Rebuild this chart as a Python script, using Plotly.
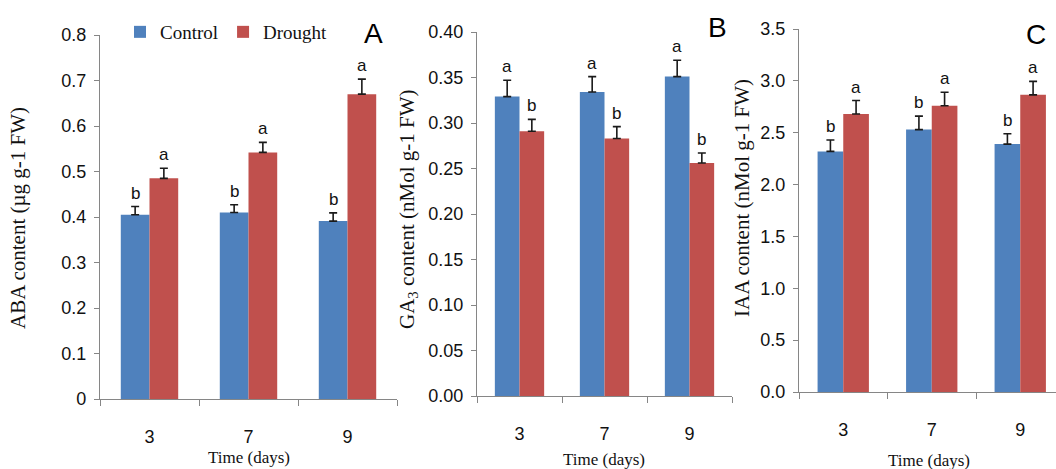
import plotly.graph_objects as go

days = ["3", "7", "9"]

aba_control = [0.405, 0.410, 0.391]
aba_control_err = [0.018, 0.017, 0.018]
aba_drought = [0.485, 0.542, 0.670]
aba_drought_err = [0.022, 0.022, 0.033]
aba_letters_control = ["b", "b", "b"]
aba_letters_drought = ["a", "a", "a"]

ga_control = [0.329, 0.334, 0.351]
ga_control_err = [0.018, 0.017, 0.018]
ga_drought = [0.291, 0.283, 0.256]
ga_drought_err = [0.013, 0.013, 0.011]
ga_letters_control = ["a", "a", "a"]
ga_letters_drought = ["b", "b", "b"]

iaa_control = [2.32, 2.53, 2.39]
iaa_control_err = [0.11, 0.13, 0.10]
iaa_drought = [2.68, 2.76, 2.865]
iaa_drought_err = [0.13, 0.13, 0.13]
iaa_letters_control = ["b", "b", "b"]
iaa_letters_drought = ["a", "a", "a"]

BLUE = "#4F81BD"
RED = "#C0504D"
AXIS = "#868686"
W, H = 1056, 469
BARGAP = 0.42
SANS = "Liberation Sans Narrow, Liberation Sans, Arial"
SERIF = "Liberation Serif, Times New Roman"

def fx(px):
    return px / W

def fy(py):
    return 1 - py / H

panels = [
    dict(ctrl=aba_control, ce=aba_control_err, dr=aba_drought, de=aba_drought_err,
         lc=aba_letters_control, ld=aba_letters_drought,
         xdom=[fx(100), fx(397)], xrange=[-0.5, 2.5], ydom=[fy(399), fy(35)],
         yrange=[0, 0.8], dtick=0.1, fmt="", ytitle="ABA content (µg g-1 FW)",
         ytx=18, yty=218, xtx=249, xty=457, letter="A", lx=373, ly=33),
    dict(ctrl=ga_control, ce=ga_control_err, dr=ga_drought, de=ga_drought_err,
         lc=ga_letters_control, ld=ga_letters_drought,
         xdom=[fx(477), fx(732)], xrange=[-0.5, 2.5], ydom=[fy(396), fy(32)],
         yrange=[0, 0.40], dtick=0.05, fmt=".2f", ytitle="GA<sub>3</sub> content (nMol g-1 FW)",
         ytx=408, yty=210, xtx=604, xty=459, letter="B", lx=717, ly=28),
    dict(ctrl=iaa_control, ce=iaa_control_err, dr=iaa_drought, de=iaa_drought_err,
         lc=iaa_letters_control, ld=iaa_letters_drought,
         xdom=[fx(799), 1.0], xrange=[-0.5, 2.404], ydom=[fy(392), fy(29)],
         yrange=[0, 3.5], dtick=0.5, fmt=".1f", ytitle="IAA content (nMol g-1 FW)",
         ytx=742, yty=198, xtx=929, xty=460, letter="C", lx=1036, ly=34),
]

fig = go.Figure()
annotations = []
layout_axes = {}

for i, p in enumerate(panels):
    n = "" if i == 0 else str(i + 1)
    xa, ya = "x" + n, "y" + n
    for name, vals, errs, color, letters, sign in [
        ("Control", p["ctrl"], p["ce"], BLUE, p["lc"], -1),
        ("Drought", p["dr"], p["de"], RED, p["ld"], 1),
    ]:
        fig.add_trace(go.Bar(
            x=days, y=vals, name=name, marker=dict(color=color, line=dict(width=0)),
            error_y=dict(type="data", symmetric=False, array=errs,
                         arrayminus=[0] * len(errs), color="#1a1a1a",
                         thickness=1.6, width=4),
            xaxis=xa, yaxis=ya, showlegend=(i == 0), legendgroup=name,
        ))
        off = (1 - BARGAP) / 4
        for k, (v, e, t) in enumerate(zip(vals, errs, letters)):
            annotations.append(dict(
                x=k + sign * off, y=v + e, xref=xa, yref=ya, text=t,
                showarrow=False, yanchor="bottom", yshift=2,
                font=dict(family=SANS, size=17, color="#111"),
            ))
    layout_axes["xaxis" + n] = dict(
        domain=p["xdom"], range=p["xrange"], type="category", anchor=ya,
        showline=True, linecolor=AXIS, linewidth=1.3, ticks="outside",
        tickson="boundaries", ticklen=6, tickcolor=AXIS, tickwidth=1.3,
        ticklabelstandoff=21, showgrid=False, zeroline=False, automargin=False,
        tickfont=dict(family=SANS, size=18, color="#111"),
    )
    layout_axes["yaxis" + n] = dict(
        domain=p["ydom"], range=p["yrange"], anchor=xa, dtick=p["dtick"],
        tickformat=p["fmt"], showline=True, linecolor=AXIS, linewidth=1.3,
        ticks="outside", ticklen=5, tickcolor=AXIS, tickwidth=1.3,
        showgrid=False, zeroline=False, ticklabelstandoff=4, automargin=False,
        tickfont=dict(family=SANS, size=18, color="#111"),
    )
    annotations.append(dict(
        x=fx(p["ytx"]), y=fy(p["yty"]), xref="paper", yref="paper", text=p["ytitle"],
        textangle=-90, showarrow=False, xanchor="center", yanchor="middle",
        font=dict(family=SERIF, size=21, color="#111"),
    ))
    annotations.append(dict(
        x=fx(p["xtx"]), y=fy(p["xty"]), xref="paper", yref="paper", text="Time (days)",
        showarrow=False, xanchor="center", yanchor="middle",
        font=dict(family=SERIF, size=17, color="#111"),
    ))
    annotations.append(dict(
        x=fx(p["lx"]), y=fy(p["ly"]), xref="paper", yref="paper", text=p["letter"],
        showarrow=False, xanchor="center", yanchor="middle",
        font=dict(family="Liberation Sans, Arial", size=28, color="#000"),
    ))

fig.update_layout(
    width=W, height=H, margin=dict(l=0, r=0, t=0, b=0, autoexpand=False),
    paper_bgcolor="white", plot_bgcolor="white",
    barmode="group", bargap=BARGAP, bargroupgap=0,
    annotations=annotations,
    legend=dict(orientation="h", x=fx(120), y=fy(13), xanchor="left", yanchor="top",
                bgcolor="rgba(0,0,0,0)", itemwidth=30,
                font=dict(family=SERIF, size=19, color="#111")),
    **layout_axes,
)

fig.write_html("out.html", config={"displayModeBar": False},
               post_script="document.body.style.margin='0';document.body.style.overflow='hidden';")
